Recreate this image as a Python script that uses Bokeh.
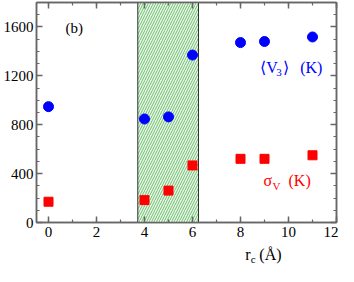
from bokeh.plotting import figure
from bokeh.layouts import column
from bokeh.models import (LinearAxis, SingleIntervalTicker, Range1d, Label, ColumnDataSource)
from bokeh.embed import file_html
from bokeh.resources import INLINE

# ---- data ----
rc_v3 = [0, 4, 5, 6, 8, 9, 11]
v3 = [948, 847, 864, 1370, 1472, 1481, 1518]
rc_sig = [0, 4, 5, 6, 8, 9, 11]
sigma = [170, 183, 261, 467, 521, 521, 550]
band_left = [3.72]
band_right = [6.25]
band_bottom = [0]
band_top = [1800]

FONT = "'Liberation Serif', 'Times New Roman', serif"
AX = "#666666"

p = figure(width=338, height=241, output_backend="svg", toolbar_location=None,
           x_range=Range1d(-0.5, 12), y_range=Range1d(0, 1800),
           min_border_left=34, min_border_right=2, min_border_top=2, min_border_bottom=19)
p.grid.visible = False
p.outline_line_color = AX
p.outline_line_width = 1.5
p.background_fill_color = "white"
p.border_fill_color = "white"

# shaded band
band = ColumnDataSource(dict(l=band_left, r=band_right, b=band_bottom, t=band_top))
p.quad(left="l", right="r", bottom="b", top="t", source=band,
       fill_color="#ecf7ec", line_color="#333333", line_width=1,
       hatch_pattern="/", hatch_color="#5cb85c", hatch_alpha=0.9,
       hatch_scale=5, hatch_weight=1)

p.scatter(rc_v3, v3, marker="circle", size=10, fill_color="#0000ff", line_color="#0000ff")
p.scatter(rc_sig, sigma, marker="square", size=9, fill_color="#ff0000", line_color="#ff0000")

xt = SingleIntervalTicker(interval=2, num_minor_ticks=2)
yt = SingleIntervalTicker(interval=400, num_minor_ticks=4)

def style(ax, show):
    ax.major_tick_in = 6
    ax.major_tick_out = 0
    ax.minor_tick_in = 3
    ax.minor_tick_out = 0
    ax.axis_line_color = AX
    ax.axis_line_width = 1.5
    ax.major_tick_line_color = AX
    ax.minor_tick_line_color = AX
    ax.major_tick_line_width = 1.5
    ax.minor_tick_line_width = 1.2
    if show:
        ax.major_label_text_font = FONT
        ax.major_label_text_font_size = "15px"
        ax.major_label_text_color = "black"
    else:
        ax.major_label_text_font_size = "0px"
        ax.major_label_text_alpha = 0
        ax.major_label_standoff = 0

p.xaxis.ticker = xt
p.yaxis.ticker = yt
style(p.xaxis[0], True)
style(p.yaxis[0], True)
p.xaxis.major_label_standoff = 4
p.yaxis.major_label_standoff = 3

top = LinearAxis(ticker=SingleIntervalTicker(interval=2, num_minor_ticks=2))
right = LinearAxis(ticker=SingleIntervalTicker(interval=400, num_minor_ticks=4))
style(top, False)
style(right, False)
p.add_layout(top, "above")
p.add_layout(right, "right")

def lab(fig, x, y, text, size, color, xo=0, yo=0, align="left", base="alphabetic"):
    fig.add_layout(Label(x=x, y=y, text=text, x_offset=xo, y_offset=yo,
                         text_font=FONT, text_font_size=size, text_color=color,
                         text_align=align, text_baseline=base))

lab(p, 1.07, 1592, "(b)", "15px", "black", align="center", base="middle")

# <V3> (K)
bx, by = 8.82, 1267
lab(p, bx, by, "\u27e8V", "16px", "#0000ff")
lab(p, bx, by, "3", "11px", "#0000ff", xo=16, yo=-5)
lab(p, bx, by, "\u27e9", "16px", "#0000ff", xo=23)
lab(p, bx, by, "(K)", "16px", "#0000ff", xo=40)

# sigma_V (K)
sx, sy = 8.96, 340
lab(p, sx, sy, "\u03c3", "16px", "#ff0000")
lab(p, sx, sy, "V", "11px", "#ff0000", xo=9, yo=-5)
lab(p, sx, sy, "(K)", "16px", "#ff0000", xo=25)

# strip below for the x-axis title r_c (Å)
q = figure(width=338, height=25, output_backend="svg", toolbar_location=None,
           x_range=p.x_range, y_range=Range1d(0, 25),
           x_axis_location=None, y_axis_location=None,
           min_border_left=34, min_border_right=2, min_border_top=0, min_border_bottom=0)
q.grid.visible = False
q.outline_line_color = None
q.background_fill_color = "white"
q.border_fill_color = "white"

rx, ry = 8.2, 12
lab(q, rx, ry, "r", "16px", "black")
lab(q, rx, ry, "c", "11px", "black", xo=5.5, yo=-4)
lab(q, rx, ry, "(\u00c5)", "16px", "black", xo=14)

open("out.html", "w").write(file_html(column(p, q, spacing=0), INLINE))
